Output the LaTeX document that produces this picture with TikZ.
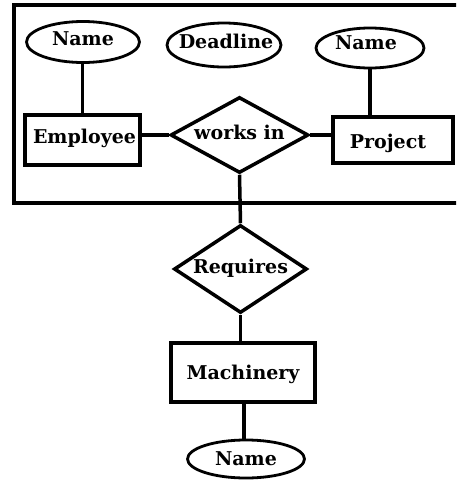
\documentclass[tikz,border=0pt]{standalone}
\usepackage{fontspec}
\setmainfont{DejaVu Serif}
\usetikzlibrary{shapes.geometric}
\begin{document}
\begin{tikzpicture}[x=1pt,y=-1pt,
  every node/.style={font=\bfseries\fontsize{19}{21}\selectfont, text=black},
  entity/.style={draw, line width=3.5pt, rectangle, inner sep=0pt},
  attr/.style={draw, line width=2.8pt, ellipse, inner sep=0pt},
  rel/.style={draw, line width=3.5pt, diamond, inner sep=0pt, aspect=1.8},
  link/.style={line width=3.5pt}]
\useasboundingbox (0,0) rectangle (456,488);
\clip (0,0) rectangle (456,488);
% aggregation frame around the works-in relationship
\draw[line width=3.5pt] (470,5) -- (14,5) -- (14,203) -- (470,203);
% attributes
\node[attr, minimum width=113pt, minimum height=41pt] (ename) at (83,42) {};
\node at (83,39) {Name};
\node[attr, minimum width=114pt, minimum height=44pt] (deadline) at (224,45) {};
\node at (226,41) {Deadline};
\node[attr, minimum width=108pt, minimum height=40pt] (pname) at (370,48) {};
\node at (366,43) {Name};
% entities
\node[entity, minimum width=115pt, minimum height=50pt] (employee) at (82.5,140) {};
\node at (84.5,138) {Employee};
\node[entity, minimum width=120pt, minimum height=46pt] (project) at (393,140) {};
\node at (388,143) {Project};
\node[entity, minimum width=144pt, minimum height=59pt] (machinery) at (243,372.5) {};
\node at (243,374) {Machinery};
\node[attr, minimum width=117pt, minimum height=38pt] (mname) at (246,459) {Name};
% relationships
\node[rel, minimum width=138pt, minimum height=76pt] (works) at (239.5,135) {};
\node at (239.5,132) {works in};
\node[rel, minimum width=133pt, minimum height=88pt] (requires) at (240.5,269) {};
\node at (240.5,268) {Requires};
% connectors
\draw[link] (ename.south -| employee.north) -- (employee.north);
\draw[link] (pname.south) -- (pname.south |- project.north);
\draw[link] (employee.east |- works.west) -- (works.west);
\draw[link] (works.east) -- (works.east -| project.west);
\draw[link] (works.south) -- (requires.north);
\draw[link] (requires.south) -- (requires.south |- machinery.north);
\draw[link] (mname.north -| 244,0) -- (244,0 |- machinery.south);
\end{tikzpicture}
\end{document}
